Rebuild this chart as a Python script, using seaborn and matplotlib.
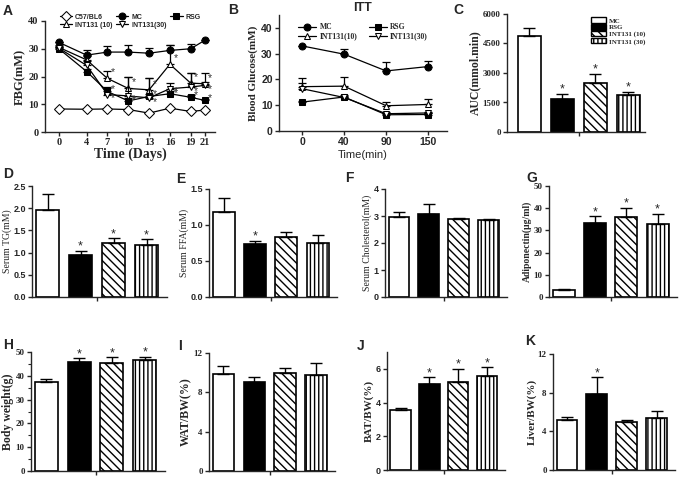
import numpy as np
import pandas as pd
import seaborn as sns
import matplotlib.pyplot as plt
from matplotlib.patches import Patch

sns.set_style("ticks")
plt.rcParams['font.family'] = ['Liberation Serif', 'DejaVu Serif']
plt.rcParams['hatch.linewidth'] = 1.0
plt.rcParams['axes.linewidth'] = 1.0
plt.rcParams['xtick.major.width'] = 1.0
plt.rcParams['ytick.major.width'] = 1.0

# bar groups
groups = ['MC', 'RSG', 'INT131 (10)', 'INT131 (30)']
fills = ['white', 'black', 'white', 'white']
hatches = ['', '', '\\\\\\\\', '||||']

# A: fasting blood glucose over time
days = [0, 4, 7, 10, 13, 16, 19, 21]
fbg_c57 = [8.3, 8.2, 8.3, 8.1, 6.8, 8.6, 7.4, 7.9]
fbg_mc = [32.3, 27.7, 28.8, 28.8, 28.4, 29.4, 30.0, 33.0]
fbg_mc_err = [0.0, 1.8, 2.2, 2.5, 1.8, 1.8, 1.6, 0.0]
fbg_rsg = [30.0, 21.8, 14.6, 11.2, 12.8, 13.8, 12.5, 11.4]
fbg_rsg_err = [0.5, 0.8, 1.5, 1.2, 1.0, 1.0, 0.8, 0.5]
fbg_i10 = [30.5, 26.0, 19.3, 15.7, 15.2, 24.4, 17.6, 17.4]
fbg_i10_err = [1.0, 1.5, 2.7, 4.2, 4.2, 7.0, 3.6, 3.8]
fbg_i30 = [30.2, 24.0, 13.5, 13.0, 12.3, 15.6, 16.2, 16.8]
fbg_i30_err = [0.8, 1.5, 2.5, 6.8, 7.2, 2.0, 5.0, 1.2]

# B: ITT
itt_time = ['0', '40', '90', '150']
itt_mc = [33.0, 29.8, 23.3, 25.0]
itt_mc_err = [0.0, 2.0, 3.5, 2.0]
itt_rsg = [11.2, 13.2, 6.3, 6.4]
itt_rsg_err = [0.3, 0.5, 0.5, 0.5]
itt_i10 = [17.2, 17.4, 9.8, 10.3]
itt_i10_err = [3.5, 3.7, 1.3, 2.0]
itt_i30 = [16.4, 13.0, 6.7, 7.0]
itt_i30_err = [2.3, 0.8, 0.5, 0.5]

# C-K: bar panels (mean, error)
auc = [4900, 1700, 2500, 1900]
auc_err = [400, 250, 450, 150]
tg = [1.97, 0.95, 1.22, 1.18]
tg_err = [0.35, 0.08, 0.10, 0.12]
ffa = [1.18, 0.73, 0.84, 0.75]
ffa_err = [0.20, 0.05, 0.06, 0.11]
chol = [2.98, 3.08, 2.88, 2.84]
chol_err = [0.15, 0.37, 0.04, 0.06]
adipo = [3.2, 33.3, 35.9, 32.7]
adipo_err = [0.2, 3.0, 4.2, 4.7]
bw = [37.5, 45.8, 45.5, 46.7]
bw_err = [1.0, 1.6, 2.3, 1.4]
wat = [9.9, 9.1, 10.0, 9.8]
wat_err = [0.8, 0.5, 0.5, 1.2]
bat = [3.55, 5.1, 5.2, 5.55]
bat_err = [0.1, 0.4, 0.8, 0.55]
liver = [5.2, 7.9, 5.0, 5.4]
liver_err = [0.3, 1.7, 0.2, 0.7]

W, H = 681, 478
fig = plt.figure(figsize=(W / 100, H / 100), dpi=100)

SANS = ['Liberation Sans', 'DejaVu Sans']
SERIF = ['Liberation Serif', 'DejaVu Serif']


def px_axes(l, t, r, b):
    return fig.add_axes([l / W, 1 - b / H, (r - l) / W, (b - t) / H])


def letter(x, y, s):
    fig.text(x / W, 1 - y / H, s, family=SANS, fontweight='bold', fontsize=10, va='top')


def style_ticks(ax, family, size=7):
    for t in ax.get_xticklabels() + ax.get_yticklabels():
        t.set_family(family)
        t.set_fontweight('bold')
        t.set_fontsize(size)
    ax.tick_params(length=3, width=1, pad=1.5)


def bar_panel(rect, means, errs, stars, ylim, yticks, ylabel, tickfam, labelbold, labelsize=7.5, xlim=(-0.5, 3.6)):
    ax = px_axes(*rect)
    df = pd.DataFrame({'group': groups, 'value': means})
    sns.barplot(data=df, x='group', y='value', hue='group', palette=fills, legend=False,
                edgecolor='black', linewidth=1.2, width=0.7, errorbar=None, ax=ax)
    for p, h in zip(ax.patches, hatches):
        p.set_hatch(h)
    x = np.arange(4)
    ax.errorbar(x, means, yerr=[np.zeros(4), errs], fmt='none', ecolor='black',
                elinewidth=1, capsize=4, capthick=1)
    span = ylim[1] - ylim[0]
    for i in range(4):
        if stars[i]:
            ax.text(i, means[i] + errs[i] - span * 0.015, '*', ha='center', va='bottom',
                    fontsize=9, family=SANS)
    ax.set_xlim(*xlim)
    ax.set_ylim(*ylim)
    ax.set_yticks(yticks)
    ax.set_xticks([1.5])
    ax.set_xticklabels([''])
    ax.set_xlabel('')
    ax.set_ylabel(ylabel, family=SERIF, fontweight='bold' if labelbold else 'normal',
                  fontsize=labelsize, labelpad=1)
    sns.despine(ax=ax)
    style_ticks(ax, tickfam, 6.5)
    return ax


# ---- A ----
axA = px_axes(45, 21, 215, 132)
series_a = [
    ('C57/BL6', fbg_c57, None, 'D', 'white'),
    ('MC', fbg_mc, fbg_mc_err, 'o', 'black'),
    ('RSG', fbg_rsg, fbg_rsg_err, 's', 'black'),
    ('INT131 (10)', fbg_i10, fbg_i10_err, '^', 'white'),
    ('INT131(30)', fbg_i30, fbg_i30_err, 'v', 'white'),
]
for name, vals, err, mk, fc in series_a:
    if err is not None:
        axA.errorbar(days, vals, yerr=[np.zeros(len(vals)), err], fmt='none', ecolor='black',
                     elinewidth=0.9, capsize=3, capthick=0.9)
    sns.lineplot(x=days, y=vals, color='black', marker=mk, markerfacecolor=fc,
                 markeredgecolor='black', markersize=5, linewidth=0.9, label=name, ax=axA)
for vals, dy in ((fbg_rsg, -1.0), (fbg_i10, 0.4), (fbg_i30, -3.2)):
    for d, v in zip(days[2:], vals[2:]):
        axA.text(d + 0.5, v + dy, '*', fontsize=7.5, family=SANS, va='bottom', color='#333333')
axA.set_xlim(-2, 22.5)
axA.set_ylim(0, 40)
axA.set_xticks(days)
axA.set_yticks([0, 10, 20, 30, 40])
axA.set_xlabel('Time (Days)', family=SERIF, fontweight='bold', fontsize=10, labelpad=0)
axA.set_ylabel('FBG(mM)', family=SERIF, fontweight='bold', fontsize=9, labelpad=2)
h, l = axA.get_legend_handles_labels()
order = [0, 3, 1, 4, 2]
axA.legend([h[i] for i in order], [l[i] for i in order], ncol=3, frameon=False,
           loc='lower center', bbox_to_anchor=(0.5, 0.9),
           prop={'family': SANS, 'weight': 'bold', 'size': 5}, handlelength=1.8,
           columnspacing=0.5, handletextpad=0.4, labelspacing=0.15, borderpad=0)
sns.despine(ax=axA)
style_ticks(axA, SERIF, 7.5)

# ---- B ----
axB = px_axes(279, 15, 447, 131)
xb = np.arange(4)
series_b = [
    ('MC', itt_mc, itt_mc_err, 'o', 'black'),
    ('RSG', itt_rsg, itt_rsg_err, 's', 'black'),
    ('INT131(10)', itt_i10, itt_i10_err, '^', 'white'),
    ('INT131(30)', itt_i30, itt_i30_err, 'v', 'white'),
]
for name, vals, err, mk, fc in series_b:
    axB.errorbar(xb, vals, yerr=[np.zeros(4), err], fmt='none', ecolor='black',
                 elinewidth=0.9, capsize=3, capthick=0.9)
    sns.lineplot(x=xb, y=vals, color='black', marker=mk, markerfacecolor=fc,
                 markeredgecolor='black', markersize=5, linewidth=0.9, label=name, ax=axB)
axB.set_xlim(-0.55, 3.45)
axB.set_ylim(0, 45)
axB.set_xticks(xb)
axB.set_xticklabels(itt_time)
axB.set_yticks([0, 10, 20, 30, 40])
axB.set_title('ITT', family=SANS, fontweight='bold', fontsize=9, pad=3)
axB.set_xlabel('Time(min)', family=SANS, fontsize=8, labelpad=2)
axB.set_ylabel('Blood Glucose(mM)', family=SERIF, fontweight='bold', fontsize=8, labelpad=2)
h, l = axB.get_legend_handles_labels()
order = [0, 2, 1, 3]
axB.legend([h[i] for i in order], [l[i] for i in order], ncol=2, frameon=False,
           loc='upper center', bbox_to_anchor=(0.5, 0.96),
           prop={'family': SERIF, 'weight': 'bold', 'size': 5.5}, handlelength=2.4,
           columnspacing=1.5, handletextpad=0.4, labelspacing=0.15, borderpad=0)
sns.despine(ax=axB)
style_ticks(axB, SANS, 7.5)

# ---- C ----
axC = bar_panel((507, 14, 645, 132), auc, auc_err, [0, 1, 1, 1], (0, 6000),
                [0, 1500, 3000, 4500, 6000], 'AUC(mmol.min)', SERIF, True, 8.5, (-0.67, 3.51))
axC.legend([Patch(facecolor=f, edgecolor='black', hatch=h) for f, h in zip(fills, hatches)],
           ['MC', 'RSG', 'INT131 (10)', 'INT131 (30)'], frameon=False, loc='upper left',
           bbox_to_anchor=(0.58, 1.0), prop={'family': SERIF, 'weight': 'bold', 'size': 5},
           handlelength=2.2, handleheight=0.8, labelspacing=0.1, handletextpad=0.5, borderpad=0)

# ---- D-G ----
bar_panel((32, 186, 167, 297), tg, tg_err, [0, 1, 1, 1], (0, 2.5),
          [0.0, 0.5, 1.0, 1.5, 2.0, 2.5], 'Serum TG(mM)', SANS, False, 7, (-0.47, 3.62))
bar_panel((209, 189, 337, 297), ffa, ffa_err, [0, 1, 0, 0], (0, 1.5),
          [0.0, 0.5, 1.0, 1.5], 'Serum FFA(mM)', SANS, False, 7, (-0.47, 3.62))
bar_panel((385, 189, 507, 297), chol, chol_err, [0, 0, 0, 0], (0, 4),
          [0, 1, 2, 3, 4], 'Serum Cholesterol(mM)', SANS, False, 7, (-0.47, 3.62))
bar_panel((549, 186, 677, 297), adipo, adipo_err, [0, 1, 1, 1], (0, 50),
          [0, 10, 20, 30, 40, 50], 'Adiponectin(\u03bcg/ml)', SERIF, True, 7, (-0.47, 3.62))

# ---- H-K ----
axH = bar_panel((31, 352, 165, 471), bw, bw_err, [0, 1, 1, 1], (0, 50),
                [0, 10, 20, 30, 40, 50], 'Body weight(g)', SERIF, True, 8.5, (-0.47, 3.62))
axH.set_yticks(np.arange(0, 51, 5), minor=True)
axH.tick_params(axis='y', which='minor', length=2, width=0.8)
bar_panel((209, 353, 335, 471), wat, wat_err, [0, 0, 0, 0], (0, 12),
          [0, 4, 8, 12], 'WAT/BW(%)', SERIF, True, 8.5, (-0.47, 3.62))
bar_panel((387, 352, 505, 470), bat, bat_err, [0, 1, 1, 1], (0, 7),
          [0, 2, 4, 6], 'BAT/BW(%)', SANS, True, 8, (-0.47, 3.62))
bar_panel((553, 354, 675, 470), liver, liver_err, [0, 1, 0, 0], (0, 12),
          [0, 4, 8, 12], 'Liver/BW(%)', SERIF, True, 8, (-0.47, 3.62))

for x, y, s in [(3, 4, 'A'), (228, 3, 'B'), (453, 3, 'C'), (3, 167, 'D'), (176, 172, 'E'),
                (345, 171, 'F'), (526, 171, 'G'), (3, 338, 'H'), (178, 339, 'I'),
                (357, 339, 'J'), (525, 334, 'K')]:
    letter(x, y, s)

fig.savefig('out.png', dpi=100)
